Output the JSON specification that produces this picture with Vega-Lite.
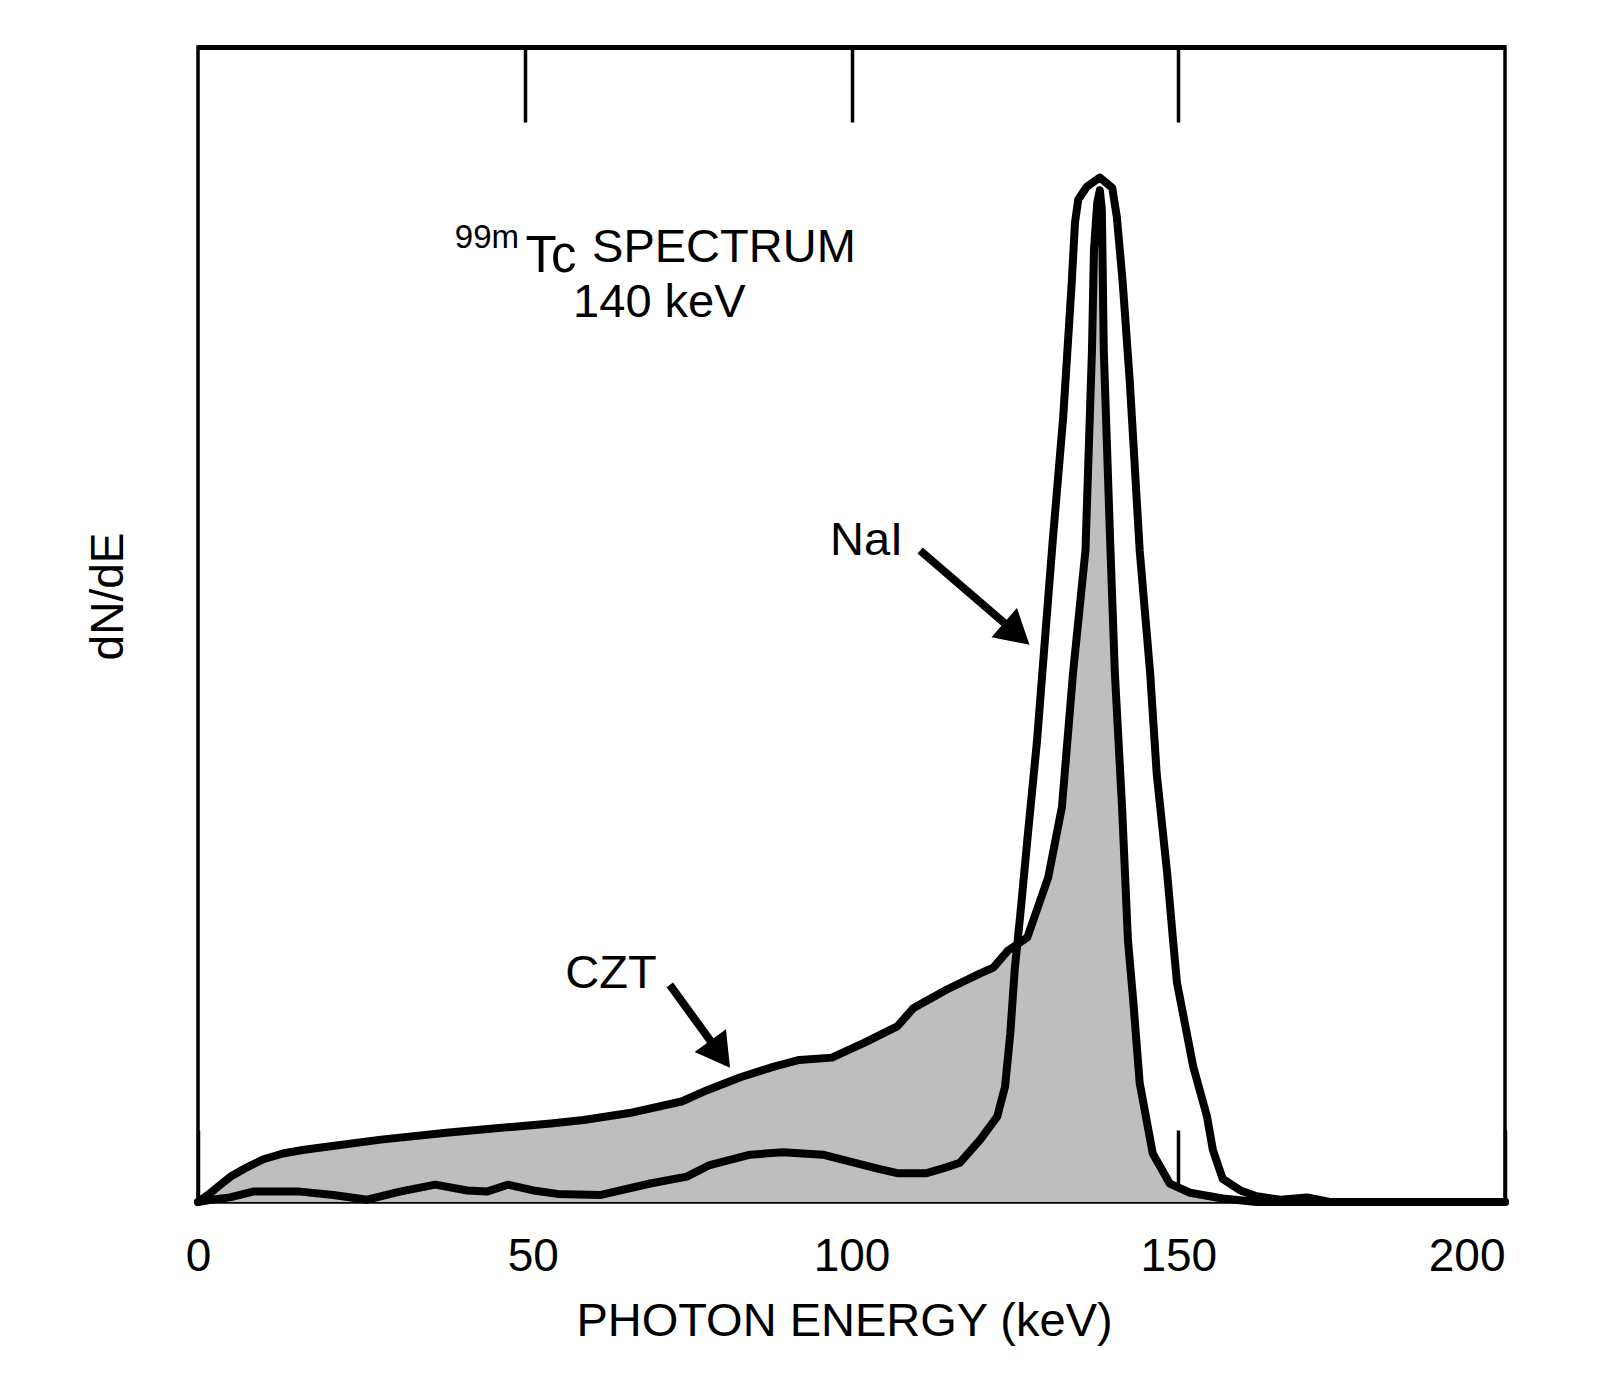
{
  "$schema": "https://vega.github.io/schema/vega-lite/v6.json",
  "width": 1307,
  "height": 1155,
  "autosize": {"type": "none"},
  "padding": {"left": 198, "top": 47, "right": 106, "bottom": 172},
  "background": "white",
  "config": {
    "font": "Liberation Sans",
    "view": {"stroke": "black", "strokeWidth": 3.5},
    "axis": {"labelFont": "Liberation Sans", "titleFont": "Liberation Sans", "labelColor": "black", "titleColor": "black", "titleFontWeight": "normal", "grid": false, "domain": false}
  },
  "datasets": {
    "czt": [
      {"energy": 0, "dnde": 0}, {"energy": 1.5, "dnde": 0.6}, {"energy": 3, "dnde": 1.3}, {"energy": 5, "dnde": 2.2},
      {"energy": 7.5, "dnde": 3.0}, {"energy": 10, "dnde": 3.7}, {"energy": 13, "dnde": 4.2}, {"energy": 16, "dnde": 4.5},
      {"energy": 20, "dnde": 4.8}, {"energy": 28, "dnde": 5.4}, {"energy": 38, "dnde": 6.0}, {"energy": 48, "dnde": 6.5},
      {"energy": 54, "dnde": 6.8}, {"energy": 59, "dnde": 7.1}, {"energy": 66, "dnde": 7.7}, {"energy": 74, "dnde": 8.7},
      {"energy": 78, "dnde": 9.7}, {"energy": 83, "dnde": 10.8}, {"energy": 88, "dnde": 11.7}, {"energy": 92, "dnde": 12.3},
      {"energy": 97, "dnde": 12.5}, {"energy": 102, "dnde": 13.8}, {"energy": 107, "dnde": 15.2}, {"energy": 109.5, "dnde": 16.8},
      {"energy": 114.6, "dnde": 18.4}, {"energy": 119.7, "dnde": 19.8}, {"energy": 121.7, "dnde": 20.3}, {"energy": 124, "dnde": 21.8},
      {"energy": 126.9, "dnde": 22.9}, {"energy": 130.1, "dnde": 28.1}, {"energy": 132.2, "dnde": 34.2}, {"energy": 133.9, "dnde": 45.8},
      {"energy": 135.8, "dnde": 56.4}, {"energy": 136.8, "dnde": 73.8}, {"energy": 137.1, "dnde": 82.4}, {"energy": 137.6, "dnde": 86.5},
      {"energy": 138.0, "dnde": 87.6}, {"energy": 138.3, "dnde": 86.0}, {"energy": 138.4, "dnde": 82.4}, {"energy": 138.6, "dnde": 73.8},
      {"energy": 139.6, "dnde": 56.9}, {"energy": 140.3, "dnde": 45.8}, {"energy": 141.4, "dnde": 34.2}, {"energy": 142.3, "dnde": 22.7},
      {"energy": 143.1, "dnde": 17.5}, {"energy": 144.1, "dnde": 10.3}, {"energy": 146.1, "dnde": 4.2}, {"energy": 148.7, "dnde": 1.6},
      {"energy": 151.8, "dnde": 0.8}, {"energy": 156.8, "dnde": 0.3}, {"energy": 162, "dnde": 0}, {"energy": 200, "dnde": 0}
    ],
    "nai": [
      {"energy": 0, "dnde": 0}, {"energy": 2, "dnde": 0.2}, {"energy": 4.9, "dnde": 0.4}, {"energy": 8.4, "dnde": 0.9},
      {"energy": 15.6, "dnde": 0.9}, {"energy": 20.7, "dnde": 0.6}, {"energy": 25.9, "dnde": 0.2}, {"energy": 30.9, "dnde": 0.9},
      {"energy": 36.3, "dnde": 1.5}, {"energy": 41.2, "dnde": 1.0}, {"energy": 44.2, "dnde": 0.9}, {"energy": 47.4, "dnde": 1.5},
      {"energy": 51.3, "dnde": 1.0}, {"energy": 55, "dnde": 0.7}, {"energy": 61.5, "dnde": 0.6}, {"energy": 69.2, "dnde": 1.6},
      {"energy": 74.8, "dnde": 2.2}, {"energy": 78.3, "dnde": 3.2}, {"energy": 84.5, "dnde": 4.1}, {"energy": 89.5, "dnde": 4.3},
      {"energy": 95.6, "dnde": 4.1}, {"energy": 99.8, "dnde": 3.5}, {"energy": 104, "dnde": 2.9}, {"energy": 107.0, "dnde": 2.5},
      {"energy": 111.5, "dnde": 2.5}, {"energy": 114.5, "dnde": 3.0}, {"energy": 116.6, "dnde": 3.4}, {"energy": 119.7, "dnde": 5.4},
      {"energy": 122.3, "dnde": 7.4}, {"energy": 123.5, "dnde": 10.0}, {"energy": 124.3, "dnde": 14.6}, {"energy": 125.0, "dnde": 20.3},
      {"energy": 125.8, "dnde": 24.7}, {"energy": 126.9, "dnde": 31.3}, {"energy": 128.4, "dnde": 40.0}, {"energy": 129.6, "dnde": 48.7},
      {"energy": 130.8, "dnde": 57.3}, {"energy": 132.4, "dnde": 68.0}, {"energy": 133.7, "dnde": 79.6}, {"energy": 134.2, "dnde": 84.8},
      {"energy": 134.7, "dnde": 86.8}, {"energy": 136.0, "dnde": 87.9}, {"energy": 138.0, "dnde": 88.7}, {"energy": 139.9, "dnde": 87.8},
      {"energy": 140.6, "dnde": 85.3}, {"energy": 141.5, "dnde": 79.6}, {"energy": 142.6, "dnde": 70.9}, {"energy": 144.1, "dnde": 56.4},
      {"energy": 145.7, "dnde": 45.8}, {"energy": 146.7, "dnde": 37.1}, {"energy": 148.3, "dnde": 28.5}, {"energy": 149.2, "dnde": 22.7},
      {"energy": 149.8, "dnde": 19.0}, {"energy": 152.3, "dnde": 11.7}, {"energy": 154.4, "dnde": 7.4}, {"energy": 155.3, "dnde": 4.5},
      {"energy": 156.8, "dnde": 2.0}, {"energy": 159.5, "dnde": 1.0}, {"energy": 162, "dnde": 0.5}, {"energy": 165.6, "dnde": 0.2},
      {"energy": 169.7, "dnde": 0.4}, {"energy": 173.2, "dnde": 0}, {"energy": 200, "dnde": 0}
    ],
    "arrows": [
      {"label": "CZT", "x0": 72.2, "y0": 18.8, "x1": 79.9, "y1": 12.8},
      {"label": "NaI", "x0": 110.5, "y0": 56.4, "x1": 125.3, "y1": 49.2}
    ],
    "labels": [
      {"text": "SPECTRUM", "x": 60.3, "y": 81.4},
      {"text": "140 keV", "x": 57.4, "y": 76.6},
      {"text": "NaI", "x": 96.7, "y": 56.0},
      {"text": "CZT", "x": 56.2, "y": 18.5}
    ],
    "tc": [
      {"text": "Tc", "x": 50.1, "y": 80.5}
    ],
    "sup": [
      {"text": "99m", "x": 39.3, "y": 82.6}
    ]
  },
  "layer": [
    {
      "data": {"name": "czt"},
      "mark": {"type": "area", "color": "#bebebe"},
      "encoding": {
        "x": {"field": "energy", "type": "quantitative", "scale": {"domain": [0, 200], "nice": false},
          "axis": {"values": [0, 50, 100, 150, 200], "tickSize": -72, "tickWidth": 3.5, "tickColor": "black",
            "labelFontSize": 46, "labelPadding": 140, "labelBaseline": "alphabetic", "labelFlush": false, "labelOverlap": false,
            "labelAlign": {"condition": {"test": "datum.value == 200", "value": "right"}, "value": "center"},
            "labelOffset": {"condition": {"test": "datum.value == 50", "value": 8}, "value": 0},
            "title": "PHOTON ENERGY (keV)", "titleFontSize": 47, "titleX": 646, "titleY": 133, "titleBaseline": "alphabetic"}},
        "y": {"field": "dnde", "type": "quantitative", "scale": {"domain": [0, 100], "nice": false},
          "title": "dN/dE",
          "axis": {"labels": false, "ticks": false, "title": "dN/dE", "titleFontSize": 46, "titleX": -76, "titleY": 549, "titleBaseline": "alphabetic", "titleAngle": 270}}
      }
    },
    {
      "data": {"name": "czt"},
      "mark": {"type": "line", "color": "black", "strokeWidth": 8, "strokeJoin": "round", "strokeCap": "round"},
      "encoding": {
        "x": {"field": "energy", "type": "quantitative", "axis": null},
        "y": {"field": "dnde", "type": "quantitative"}
      }
    },
    {
      "data": {"name": "nai"},
      "mark": {"type": "line", "color": "black", "strokeWidth": 8, "strokeJoin": "round", "strokeCap": "round"},
      "encoding": {
        "x": {"field": "energy", "type": "quantitative",
          "axis": {"orient": "top", "values": [50, 100, 150], "tickSize": -75, "tickWidth": 3.5, "tickColor": "black", "labels": false, "title": null,
            "domain": true, "domainWidth": 5, "domainColor": "black"}},
        "y": {"field": "dnde", "type": "quantitative"}
      }
    },
    {
      "data": {"name": "arrows"},
      "mark": {"type": "rule", "color": "black", "strokeWidth": 8},
      "encoding": {
        "x": {"field": "x0", "type": "quantitative", "axis": null},
        "y": {"field": "y0", "type": "quantitative"},
        "x2": {"field": "x1"},
        "y2": {"field": "y1"}
      }
    },
    {
      "data": {"name": "arrows"},
      "transform": [{"filter": "datum.label == 'CZT'"}],
      "mark": {"type": "point", "shape": "triangle-up", "filled": true, "color": "black", "opacity": 1, "size": 1500, "angle": 144},
      "encoding": {
        "x": {"field": "x1", "type": "quantitative", "axis": null},
        "y": {"field": "y1", "type": "quantitative"}
      }
    },
    {
      "data": {"name": "arrows"},
      "transform": [{"filter": "datum.label == 'NaI'"}],
      "mark": {"type": "point", "shape": "triangle-up", "filled": true, "color": "black", "opacity": 1, "size": 1500, "angle": 131},
      "encoding": {
        "x": {"field": "x1", "type": "quantitative", "axis": null},
        "y": {"field": "y1", "type": "quantitative"}
      }
    },
    {
      "data": {"name": "labels"},
      "mark": {"type": "text", "align": "left", "baseline": "alphabetic", "fontSize": 47, "font": "Liberation Sans", "color": "black"},
      "encoding": {
        "x": {"field": "x", "type": "quantitative", "axis": null},
        "y": {"field": "y", "type": "quantitative"},
        "text": {"field": "text"}
      }
    },
    {
      "data": {"name": "tc"},
      "mark": {"type": "text", "align": "left", "baseline": "alphabetic", "fontSize": 51, "font": "Liberation Sans", "color": "black"},
      "encoding": {
        "x": {"field": "x", "type": "quantitative", "axis": null},
        "y": {"field": "y", "type": "quantitative"},
        "text": {"field": "text"}
      }
    },
    {
      "data": {"name": "sup"},
      "mark": {"type": "text", "align": "left", "baseline": "alphabetic", "fontSize": 33, "font": "Liberation Sans", "color": "black"},
      "encoding": {
        "x": {"field": "x", "type": "quantitative", "axis": null},
        "y": {"field": "y", "type": "quantitative"},
        "text": {"field": "text"}
      }
    }
  ],
  "resolve": {"axis": {"x": "independent"}}
}
